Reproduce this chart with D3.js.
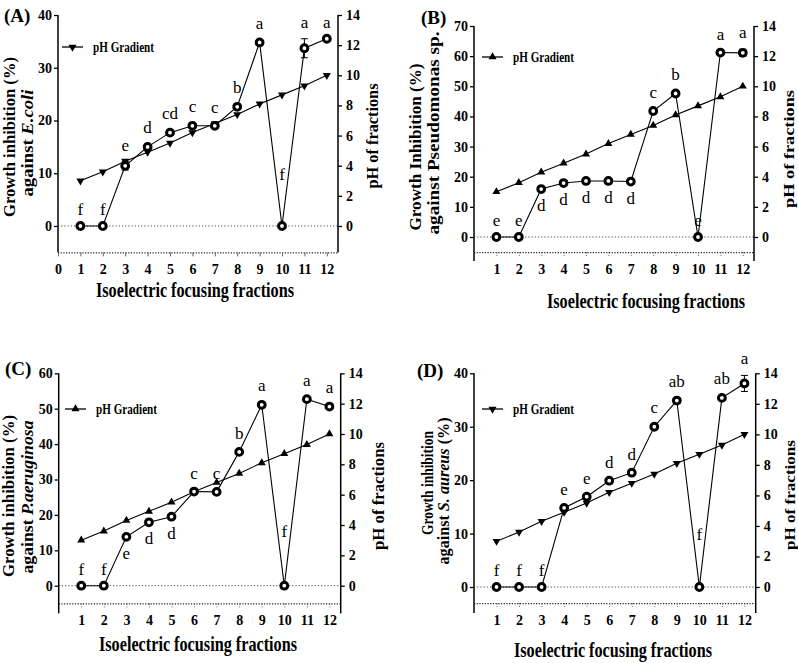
<!DOCTYPE html>
<html><head><meta charset="utf-8">
<script src="https://cdn.jsdelivr.net/npm/d3@7"></script>
<style>body{margin:0;background:#fff}svg{display:block}</style>
</head><body>
<svg id="c" width="798" height="663"></svg>
<script>
// ---------- DATA ----------
const fractions = [1,2,3,4,5,6,7,8,9,10,11,12];
const phGradient = [3.0,3.6,4.3,4.9,5.5,6.2,6.8,7.4,8.1,8.7,9.3,10.0];

const inhibA = [0,0,11.4,15.0,17.7,19.0,19.0,22.6,34.8,0,33.7,35.5];
const errA   = [0,0,0.8,0.5,0.5,0.5,0.3,0.5,0.5,0,1.8,0];
const lettersA = ["f","f","e","d","cd","c","c","b","a","f","a","a"];
const belowA   = [0,0,0,0,0,0,0,0,0,0,0,0];

const inhibB = [0,0,15.9,17.9,18.6,18.6,18.4,41.8,47.6,0,61.2,61.1];
const errB   = [0,0,0.5,0.5,0.5,0.5,0.5,0.8,0.8,0,0.6,1.2];
const lettersB = ["e","e","d","d","d","d","d","c","b","e","a","a"];
const belowB   = [0,0,1,1,1,1,1,0,0,0,0,0];

const inhibC = [0,0,13.8,17.9,19.5,26.6,26.5,37.8,51.1,0,52.7,50.6];
const errC   = [0,0,0.5,0.5,0.5,0.5,0.5,0.5,0.8,0,0.6,0.6];
const lettersC = ["f","f","e","d","d","c","c","b","a","f","a","a"];
const belowC   = [0,0,1,1,1,0,0,0,0,0,0,0];

const inhibD = [0,0,0,14.8,16.9,19.9,21.4,30.0,34.9,0,35.4,38.1];
const errD   = [0,0,0,0.4,0.4,0.4,0.4,0.5,0.5,0,0.5,1.5];
const lettersD = ["f","f","f","e","e","d","d","c","ab","f","ab","a"];
const belowD   = [0,0,0,0,0,0,0,0,0,0,0,0];

const xTicksA = [0,1,2,3,4,5,6,7,8,9,10,11,12];
const xTicksBCD = [1,2,3,4,5,6,7,8,9,10,11,12];
const yTicksA = [0,10,20,30,40];
const yTicksB = [0,10,20,30,40,50,60,70];
const yTicksC = [0,10,20,30,40,50,60];
const yTicksD = [0,10,20,30,40];
const phTicks = [0,2,4,6,8,10,12,14];
const legendLabel = "pH Gradient";
const xTitle = "Isoelectric focusing fractions";
const rightTitle = "pH of fractions";

// ---------- DRAW ----------
const FONT = "'Liberation Serif','Times New Roman',serif";
const svg = d3.select("#c");

function panel(cfg) {
  const g = svg.append("g");
  const k = (cfg.zero - cfg.top) / cfg.yMax;
  const bottom = cfg.zero - cfg.yMin * k;
  const x = d3.scaleLinear().domain([0, 12.5]).range([cfg.left, cfg.right]);
  const y = d3.scaleLinear().domain([cfg.yMin, cfg.yMax]).range([bottom, cfg.top]);
  const yr = d3.scaleLinear().domain([0, 14]).range([y(0), y(cfg.yMax)]);

  // zero dotted line
  g.append("line").attr("x1", cfg.left).attr("x2", cfg.right)
    .attr("y1", y(0)).attr("y2", y(0))
    .attr("stroke", "#444").attr("stroke-width", 1).attr("stroke-dasharray", "1.2,2");

  // bottom axis
  const xa = g.append("g").attr("transform", `translate(0,${bottom})`)
    .call(d3.axisBottom(x).tickValues(cfg.xTicks).tickSize(4).tickPadding(8).tickSizeOuter(0));
  xa.select(".domain").attr("stroke", "#222").attr("stroke-dasharray", "1.2,1.5").attr("stroke-width", 1.2)
    .attr("d", `M${cfg.left},0.5H${cfg.right}`);
  xa.selectAll(".tick line").attr("stroke", "#666").attr("stroke-width", 1)
    .attr("stroke-dasharray", cfg.dottedTicks ? "1.5,1.5" : null);
  xa.selectAll(".tick text").attr("font-family", FONT).attr("font-weight", "bold")
    .attr("font-size", 14).attr("fill", "#000");

  // left axis
  const la = g.append("g").attr("transform", `translate(${cfg.left},0)`)
    .call(d3.axisLeft(y).tickValues(cfg.yTicks).tickSize(4).tickPadding(2).tickSizeOuter(0));
  la.select(".domain").remove();
  la.selectAll(".tick line").attr("stroke", "#000").attr("stroke-width", 1.3);
  la.selectAll(".tick text").attr("font-family", FONT).attr("font-weight", "bold")
    .attr("font-size", 14).attr("fill", "#000");
  g.append("line").attr("x1", cfg.left).attr("x2", cfg.left)
    .attr("y1", cfg.top).attr("y2", bottom + cfg.ext)
    .attr("stroke", "#000").attr("stroke-width", 1.5);

  // right axis
  const ra = g.append("g").attr("transform", `translate(${cfg.right},0)`)
    .call(d3.axisRight(yr).tickValues(phTicks).tickSize(4).tickPadding(4).tickSizeOuter(0));
  ra.select(".domain").remove();
  ra.selectAll(".tick line").attr("stroke", "#000").attr("stroke-width", 1.3);
  ra.selectAll(".tick text").attr("font-family", FONT).attr("font-weight", "bold")
    .attr("font-size", 14).attr("fill", "#000");
  g.append("line").attr("x1", cfg.right).attr("x2", cfg.right)
    .attr("y1", cfg.top).attr("y2", bottom + cfg.ext)
    .attr("stroke", "#000").attr("stroke-width", 1.5);

  // pH gradient line
  const phLine = d3.line().x((d, i) => x(fractions[i])).y(d => yr(d));
  g.append("path").datum(phGradient).attr("d", phLine)
    .attr("fill", "none").attr("stroke", "#000").attr("stroke-width", 1.1);
  const tri = d3.symbol().type(d3.symbolTriangle).size(28);
  g.selectAll(".tri").data(phGradient).join("path")
    .attr("d", tri)
    .attr("transform", (d, i) => `translate(${x(fractions[i])},${yr(d)}) rotate(${cfg.down ? 180 : 0})`)
    .attr("fill", "#000");

  // inhibition line
  const inLine = d3.line().x((d, i) => x(fractions[i])).y(d => y(d));
  g.append("path").datum(cfg.inhib).attr("d", inLine)
    .attr("fill", "none").attr("stroke", "#000").attr("stroke-width", 1.1);

  // error bars
  cfg.inhib.forEach((v, i) => {
    const e = cfg.err[i];
    if (e <= 0) return;
    const cx = x(fractions[i]);
    g.append("line").attr("x1", cx).attr("x2", cx).attr("y1", y(v - e)).attr("y2", y(v + e))
      .attr("stroke", "#000").attr("stroke-width", 1);
    [v - e, v + e].forEach(w => g.append("line").attr("x1", cx - 3.5).attr("x2", cx + 3.5)
      .attr("y1", y(w)).attr("y2", y(w)).attr("stroke", "#000").attr("stroke-width", 1));
  });

  // rings
  g.selectAll(".ring").data(cfg.inhib).join("circle")
    .attr("cx", (d, i) => x(fractions[i])).attr("cy", d => y(d))
    .attr("r", 3.4).attr("fill", "#fff").attr("stroke", "#000").attr("stroke-width", 3);

  // letters
  g.selectAll(".let").data(cfg.letters).join("text")
    .attr("x", (d, i) => x(fractions[i]))
    .attr("y", (d, i) => {
      if (cfg.below[i]) return y(cfg.inhib[i]) + 22;
      const lift = (i === cfg.vIndex) ? cfg.vLift : 0;
      return y(cfg.inhib[i] + cfg.err[i]) - 11 - lift;
    })
    .attr("text-anchor", "middle").attr("font-family", FONT).attr("font-size", 17)
    .attr("fill", "#000").text(d => d);

  // legend
  g.append("line").attr("x1", cfg.leg[0]).attr("x2", cfg.leg[0] + 21)
    .attr("y1", cfg.leg[1]).attr("y2", cfg.leg[1]).attr("stroke", "#000").attr("stroke-width", 1.3);
  g.append("path").attr("d", tri)
    .attr("transform", `translate(${cfg.leg[0] + 10.5},${cfg.leg[1]}) rotate(${cfg.down ? 180 : 0})`)
    .attr("fill", "#000");
  g.append("text").attr("x", cfg.leg[0] + 31).attr("y", cfg.leg[1] + 5)
    .attr("font-family", FONT).attr("font-weight", "bold").attr("font-size", 15.5)
    .attr("textLength", 61).attr("lengthAdjust", "spacingAndGlyphs").text(legendLabel);

  // panel label
  g.append("text").attr("x", cfg.lab[0]).attr("y", cfg.lab[1])
    .attr("font-family", FONT).attr("font-weight", "bold").attr("font-size", 19).text(cfg.label);

  // x title
  g.append("text").attr("x", cfg.xt[0]).attr("y", cfg.xt[1]).attr("text-anchor", "middle")
    .attr("font-family", FONT).attr("font-weight", "bold").attr("font-size", 21)
    .attr("textLength", 198).attr("lengthAdjust", "spacingAndGlyphs").text(xTitle);

  // left titles (two lines)
  cfg.ytitles.forEach(t => {
    const tx = g.append("text")
      .attr("transform", `translate(${t.x},${t.y}) rotate(-90)`)
      .attr("text-anchor", "middle").attr("dy", "0.35em")
      .attr("font-family", FONT).attr("font-weight", "bold").attr("font-size", t.fs || 16)
      .attr("textLength", t.len).attr("lengthAdjust", "spacingAndGlyphs");
    t.parts.forEach(p => tx.append("tspan").attr("font-style", p.it ? "italic" : null).text(p.s));
  });

  // right title
  g.append("text").attr("transform", `translate(${cfg.rt[0]},${cfg.rt[1]}) rotate(-90)`)
    .attr("text-anchor", "middle").attr("dy", "0.35em")
    .attr("font-family", FONT).attr("font-weight", "bold").attr("font-size", cfg.rt[3] || 16)
    .attr("textLength", cfg.rt[2]).attr("lengthAdjust", "spacingAndGlyphs").text(rightTitle);
}

panel({label: "(A)", lab: [4, 22], left: 58, right: 338, top: 15, zero: 226, yMin: -5, yMax: 40, ext: 0,
  xTicks: xTicksA, yTicks: yTicksA, inhib: inhibA, err: errA, letters: lettersA, below: belowA, down: true,
  vIndex: 9, vLift: 35,
  leg: [62, 47], xt: [195, 297], rt: [372, 136, 105],
  ytitles: [{x: 9, y: 137, len: 160, parts: [{s: "Growth inhibition (%)"}]},
            {x: 27, y: 143, len: 107, parts: [{s: "against "}, {s: "E.coli", it: true}]}]});

panel({label: "(B)", lab: [421, 24], left: 474, right: 754, top: 26, zero: 237, yMin: -5, yMax: 70, ext: 9,
  dottedTicks: true, vIndex: 9, vLift: 0,
  xTicks: xTicksBCD, yTicks: yTicksB, inhib: inhibB, err: errB, letters: lettersB, below: belowB, down: false,
  leg: [482, 57], xt: [646, 308], rt: [789, 149, 118, 15],
  ytitles: [{x: 415, y: 147, len: 167, parts: [{s: "Growth Inhibition (%)"}]},
            {x: 433, y: 133, len: 203, parts: [{s: "against Pseudomonas sp."}]}]});

panel({label: "(C)", lab: [5, 375], left: 58.7, right: 340.7, top: 373.3, zero: 585.7, yMin: -5, yMax: 60, ext: 10,
  dottedTicks: true, vIndex: 9, vLift: 38,
  xTicks: xTicksBCD, yTicks: yTicksC, inhib: inhibC, err: errC, letters: lettersC, below: belowC, down: false,
  leg: [65, 409], xt: [198, 651], rt: [378, 496, 108],
  ytitles: [{x: 8, y: 496, len: 162, parts: [{s: "Growth inhibition (%)"}]},
            {x: 27, y: 497, len: 153, parts: [{s: "against   "}, {s: "P.aeruginosa", it: true}]}]});

panel({label: "(D)", lab: [417, 377], left: 474, right: 755.7, top: 373.3, zero: 587, yMin: -3, yMax: 40, ext: 10,
  dottedTicks: true, vIndex: 9, vLift: 36,
  xTicks: xTicksBCD, yTicks: yTicksD, inhib: inhibD, err: errD, letters: lettersD, below: belowD, down: true,
  leg: [482, 409], xt: [613, 657], rt: [790, 495, 110, 15],
  ytitles: [{x: 427, y: 483, len: 104, parts: [{s: "Growth inhibition"}]},
            {x: 443, y: 491, len: 147, parts: [{s: "against  "}, {s: "S. aureus", it: true}, {s: " (%)"}]}]});
</script>
</body></html>
